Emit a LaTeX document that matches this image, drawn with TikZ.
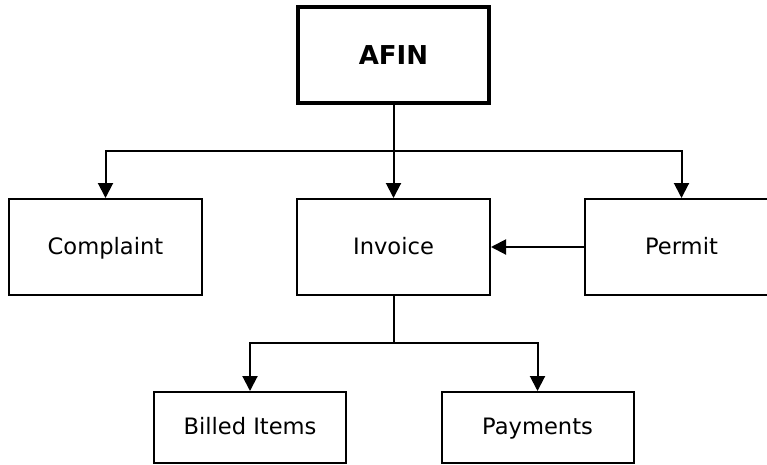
\documentclass[tikz,border=0pt]{standalone}
\usepackage{fontspec}
\setmainfont{DejaVu Sans}
\usetikzlibrary{arrows.meta}
\def\boxfont{\fontsize{22.6}{27}\selectfont}
\def\topfont{\fontsize{26}{30}\selectfont\bfseries}

\begin{document}
\begin{tikzpicture}[x=1pt,y=-1pt,
		entity/.style={draw,line width=2pt,minimum width=193pt,minimum height=96pt,
			text height=18pt,text depth=4pt,font=\boxfont},
		small entity/.style={entity,minimum width=192pt,minimum height=71pt},
		link/.style={line width=2pt},
		arr/.style={link,-{Triangle[length=15pt,width=15pt]}}]
			\useasboundingbox (0,0) rectangle (767,464);
			\node[entity,line width=3.3pt,minimum width=191pt,text height=19pt,text depth=0pt,
				font=\topfont] (afin) at (393.5,55) {AFIN};
			\node[entity] (complaint) at (105.5,247) {Complaint};
			\node[entity] (invoice) at (393.5,247) {Invoice};
			\node[entity] (permit) at (681.5,247) {Permit};
			\node[small entity] (billed) at (250,427.5) {Billed Items};
			\node[small entity] (payments) at (537.5,427.5) {Payments};
			\coordinate (bus) at (393.5,151);
			\coordinate (split) at (393.5,343);
			\draw[arr] (afin.south) -- (invoice.north);
			\draw[arr] (bus) -| (complaint.north);
			\draw[arr] (bus) -| (permit.north);
			\draw[arr] (permit.west) -- (invoice.east);
			\draw[link] (invoice.south) -- (split);
			\draw[arr] (split) -| (billed.north);
			\draw[arr] (split) -| (payments.north);
		\end{tikzpicture}
\end{document}
